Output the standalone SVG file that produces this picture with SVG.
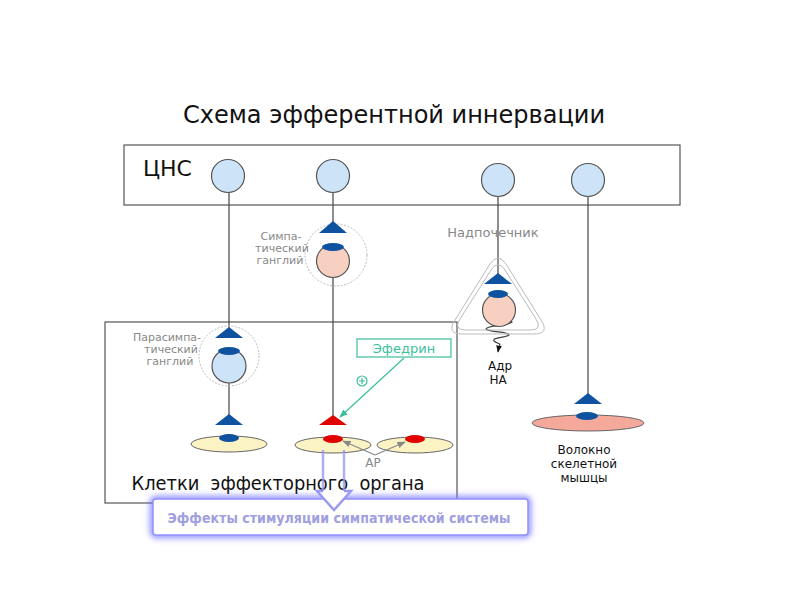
<svg xmlns="http://www.w3.org/2000/svg" width="800" height="600" viewBox="0 0 800 600">
<defs>
<style>
text{font-family:"DejaVu Sans","Liberation Sans",sans-serif}
.box{fill:none;stroke:#555;stroke-width:1.2}
.soma{fill:#cde3f8;stroke:#555;stroke-width:1.2}
.pink{fill:#f8d0c2;stroke:#555;stroke-width:1.2}
.tri{fill:#0f52a0}
.cap{fill:#0f52a0}
.ax{stroke:#444;stroke-width:1.2;fill:none}
.gang{fill:none;stroke:#bbb;stroke-width:1;stroke-dasharray:2 1.5}
.cell{fill:#fbf3c4;stroke:#666;stroke-width:1}
.red{fill:#e00000}
.glbl{fill:#888;font-size:11px;text-anchor:middle}
.blk{fill:#111;text-anchor:middle}
.teal{stroke:#3cbf9c;fill:none;stroke-width:1.2}
</style>
<marker id="ah" viewBox="0 0 10 10" refX="9" refY="5" markerWidth="7" markerHeight="7" orient="auto"><path d="M0,1 L10,5 L0,9 z" fill="#3cbf9c"/></marker>
<marker id="ag" viewBox="0 0 10 10" refX="9" refY="5" markerWidth="7" markerHeight="7" orient="auto"><path d="M0,1 L10,5 L0,9 z" fill="#888"/></marker>
<marker id="ak" viewBox="0 0 10 10" refX="9" refY="5" markerWidth="6" markerHeight="6" orient="auto"><path d="M0,1 L10,5 L0,9 z" fill="#111"/></marker>
<filter id="glow" x="-10%" y="-50%" width="120%" height="200%"><feGaussianBlur stdDeviation="3"/></filter>
</defs>
<rect width="800" height="600" fill="#fff"/>

<text x="394" y="123" font-size="24" class="blk" textLength="422" lengthAdjust="spacingAndGlyphs">Схема эфферентной иннервации</text>

<g id="cns">
<rect x="124" y="145" width="556" height="60" class="box"/>
<text x="143" y="176" font-size="22" fill="#111">ЦНС</text>
</g>

<g id="effector-box">
<rect x="105" y="322" width="352" height="181" class="box"/>
<text x="278" y="490" font-size="19" class="blk" textLength="293" lengthAdjust="spacingAndGlyphs" xml:space="preserve">Клетки  эффекторного  органа</text>
</g>

<g id="connectors">
<line x1="229" y1="192" x2="229" y2="330" class="ax"/>
<line x1="229" y1="382" x2="229" y2="416" class="ax"/>
<line x1="333" y1="192" x2="333" y2="224" class="ax"/>
<line x1="333" y1="277" x2="333" y2="417" class="ax"/>
<line x1="498" y1="197" x2="498" y2="275" class="ax"/>
<line x1="588" y1="197" x2="588" y2="395" class="ax"/>
<line x1="404" y1="358" x2="340" y2="417" class="teal" marker-end="url(#ah)"/>
<path d="M486,321 C495,318 508,318 512,322 C508,326 488,325 486,329 C490,333 508,331 509,335 C505,338 492,337 494,341 C497,344 502,343 499,346 L498,352" class="ax" stroke="#222" marker-end="url(#ak)"/>
</g>

<g id="cns-neurons">
<circle cx="228" cy="176" r="16.5" class="soma"/>
<circle cx="333" cy="176" r="16.5" class="soma"/>
<circle cx="498" cy="180" r="16.5" class="soma"/>
<circle cx="588" cy="180" r="16.5" class="soma"/>
</g>

<g id="symp-ganglion">
<circle cx="336" cy="255" r="31" class="gang"/>
<polygon points="333,221 347,233 319,233" class="tri"/>
<circle cx="333" cy="261" r="16.5" class="pink"/>
<ellipse cx="333" cy="247" rx="11" ry="4" class="cap"/>
<text class="glbl" x="281" y="240">Симпа-</text>
<text class="glbl" x="282" y="252">тический</text>
<text class="glbl" x="280" y="264">ганглий</text>
</g>

<g id="para-ganglion">
<circle cx="229" cy="356" r="30" class="gang"/>
<polygon points="229,327 243,338 215,338" class="tri"/>
<circle cx="229" cy="366" r="17" class="soma"/>
<ellipse cx="229" cy="351" rx="11" ry="4" class="cap"/>
<text class="glbl" x="167" y="341">Парасимпа-</text>
<text class="glbl" x="171" y="353">тический</text>
<text class="glbl" x="170" y="365">ганглий</text>
</g>

<g id="adrenal">
<path d="M490,264 Q498,252 506,264 L541,320 Q550,334 534,334 L462,334 Q446,334 455,320 Z" fill="none" stroke="#bbb" stroke-width="1"/>
<path d="M491,270 Q498,259 505,270 L536,319 Q543,330 530,330 L466,330 Q453,330 460,319 Z" fill="none" stroke="#bbb" stroke-width="1"/>
<polygon points="498,273 512,284 484,284" class="tri"/>
<circle cx="499" cy="310" r="16.5" class="pink"/>
<ellipse cx="498" cy="294" rx="10" ry="4" class="cap"/>
<text x="493" y="237" font-size="13" fill="#888" text-anchor="middle">Надпочечник</text>
<text x="500" y="370" font-size="12" class="blk">Адр</text>
<text x="498" y="384" font-size="12" class="blk">НА</text>
</g>

<g id="effector-cell-1">
<polygon points="229,414 243,425 215,425" class="tri"/>
<ellipse cx="229" cy="444" rx="38" ry="8" class="cell"/>
<ellipse cx="229" cy="438" rx="10" ry="4" class="cap"/>
</g>

<g id="effector-cell-2">
<polygon points="333,415 347,425 319,425" class="red"/>
<ellipse cx="333" cy="445" rx="38" ry="8" class="cell"/>
<ellipse cx="333" cy="439" rx="10" ry="4" class="red"/>
</g>

<g id="effector-cell-3">
<ellipse cx="415" cy="445" rx="38" ry="8" class="cell"/>
<ellipse cx="415" cy="439" rx="10" ry="4" class="red"/>
</g>

<g id="ap-connectors">
<line x1="375" y1="455" x2="343" y2="441" stroke="#888" stroke-width="1.2" marker-end="url(#ag)"/>
<line x1="375" y1="455" x2="405" y2="442" stroke="#888" stroke-width="1.2" marker-end="url(#ag)"/>
</g>

<g id="ap-label">
<text x="373" y="467" font-size="12" fill="#888" text-anchor="middle">АР</text>
</g>

<g id="ephedrine">
<rect x="357" y="339" width="94" height="18" fill="#fff" class="teal"/>
<text x="404" y="353" font-size="13" fill="#3cbf9c" text-anchor="middle">Эфедрин</text>
<circle cx="362" cy="381" r="5" class="teal" stroke-width="1"/>
<path d="M359,381 H365 M362,378 V384" stroke="#3cbf9c" stroke-width="1.2"/>
</g>

<g id="skeletal">
<polygon points="588,393 602,404 574,404" class="tri"/>
<ellipse cx="588" cy="423" rx="56" ry="8" fill="#f4a99a" stroke="#666" stroke-width="1"/>
<ellipse cx="587" cy="416" rx="11" ry="4" class="cap"/>
<text x="584" y="454" font-size="12" class="blk">Волокно</text>
<text x="584" y="468" font-size="12" class="blk">скелетной</text>
<text x="584" y="482" font-size="12" class="blk">мышцы</text>
</g>

<g id="effects">
<rect x="153" y="499" width="375" height="36" rx="3" fill="none" stroke="#7070ff" stroke-width="5" filter="url(#glow)"/>
<rect x="153" y="499" width="375" height="36" rx="3" fill="#fff" stroke="#9090ff" stroke-width="1.5"/>
<text x="339" y="523" font-size="14" font-weight="bold" fill="#a0a0e0" text-anchor="middle" textLength="343" lengthAdjust="spacingAndGlyphs">Эффекты стимуляции  симпатической  системы</text>
</g>

<g id="big-arrow">
<line x1="323" y1="450" x2="323" y2="491" stroke="#9a9af0" stroke-width="2.5" opacity="0.8"/>
<line x1="344" y1="450" x2="344" y2="491" stroke="#9a9af0" stroke-width="2.5" opacity="0.8"/>
<path d="M323,491 L317,491 L334,510 L351,491 L344,491" fill="#fff" stroke="#9a9af0" stroke-width="2.5"/>
</g>
</svg>
